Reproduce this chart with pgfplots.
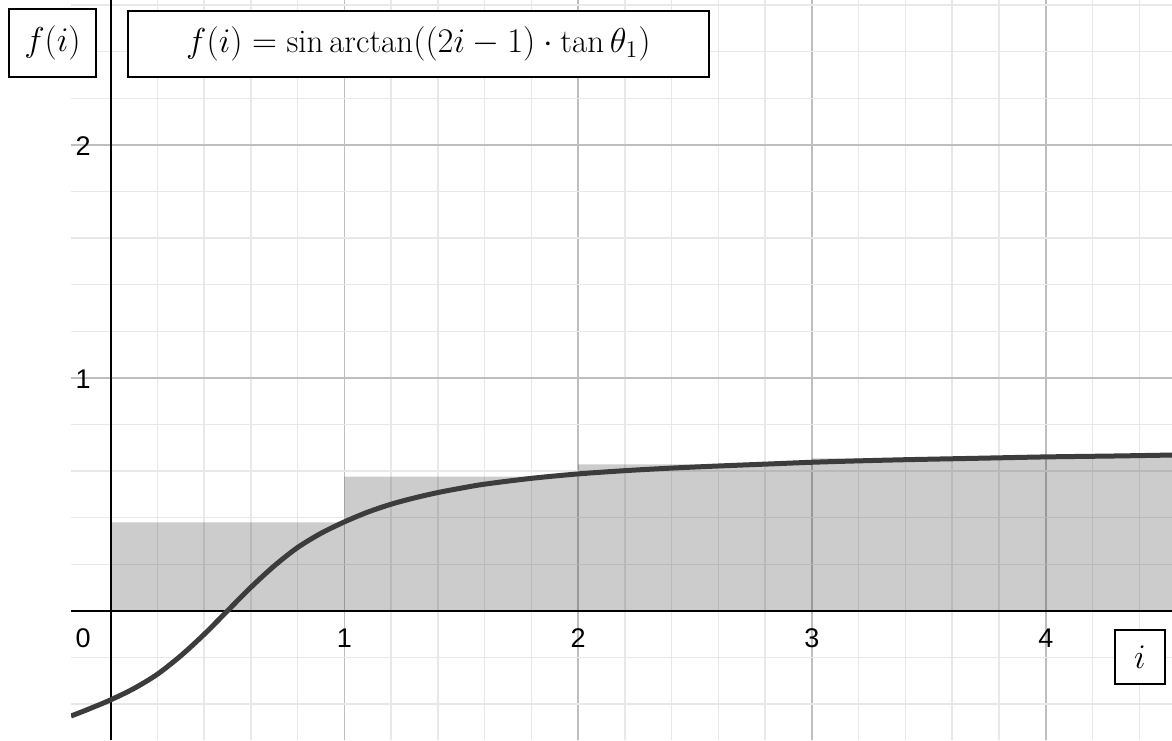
\documentclass[border=0pt]{standalone}
\usepackage{fontspec}
\newfontfamily\tickfont[Scale=1.35]{Liberation Sans}
\usepackage{pgfplots}
\pgfplotsset{compat=1.18}
\definecolor{curvegray}{RGB}{60,60,60}
\definecolor{majorgrid}{RGB}{190,190,190}
\definecolor{minorgrid}{RGB}{232,232,232}

\begin{document}
\begin{tikzpicture}
\useasboundingbox (-35.5pt,0pt) rectangle (550.5pt,370pt);
\begin{axis}[
  at={(0pt,0pt)}, anchor=south west,
  scale only axis, width=550.5pt, height=370pt,
  xmin=-0.169, xmax=4.54, ymin=-0.554, ymax=2.622,
  axis lines=middle,
  axis line style={-, black, line width=1pt},
  every inner x axis line/.append style={-},
  every inner y axis line/.append style={-},
  xtick={1,2,3,4}, ytick={1,2},
  minor xtick={-0.2,0,...,4.6},
  minor ytick={-0.4,-0.2,...,2.6},
  major tick length=0pt, minor tick length=0pt,
  grid=both,
  major grid style={draw=majorgrid, line width=0.75pt},
  minor grid style={draw=minorgrid, line width=0.75pt},
  /pgf/number format/assume math mode=true,
  ticklabel style={font=\tickfont},
  xticklabel style={anchor=center, yshift=-13.8pt},
  yticklabel style={anchor=center, xshift=-13.7pt, yshift=-0.4pt},
]
% step bars under the curve
\addplot[draw=none, fill=black, fill opacity=0.2] coordinates {
  (0,0) (0,0.380) (1,0.380) (1,0.576) (2,0.576) (2,0.629) (3,0.629)
  (3,0.655) (4,0.655) (4,0.667) (4.6,0.667) (4.6,0)
};
% f(i)
\addplot[curvegray, line width=2.5pt, smooth] coordinates {
  (-0.169,-0.451) (-0.1,-0.424) (0,-0.382) (0.1,-0.333) (0.2,-0.272)
  (0.3,-0.193) (0.4,-0.101) (0.5,0) (0.6,0.101) (0.7,0.193)
  (0.8,0.272) (0.9,0.333) (1.0,0.382) (1.1,0.424) (1.2,0.458)
  (1.3,0.485) (1.4,0.508) (1.5,0.527) (1.6,0.544) (1.8,0.569)
  (2.0,0.588) (2.2,0.602) (2.4,0.613) (2.6,0.622) (2.8,0.630)
  (3.0,0.638) (3.2,0.644) (3.4,0.649) (3.7,0.655) (4.0,0.661)
  (4.3,0.665) (4.54,0.669)
};
\node[font=\tickfont, xshift=-13.7pt, yshift=-13.8pt] at (axis cs:0,0) {0};
\end{axis}
\tikzset{lbl/.style={draw=black, line width=1pt, fill=white, inner sep=0pt,
  font=\fontsize{16.5}{20}\selectfont}}
\node[lbl, minimum width=43.2pt, minimum height=33.7pt] at (-9.25pt,348.5pt) {$f(i)$};
\node[lbl, minimum width=290.6pt, minimum height=32.6pt] at (173.7pt,347.95pt)
  {$f(i) = \sin\arctan((2i-1)\cdot\tan\theta_1)$};
\node[lbl, minimum width=24.7pt, minimum height=27pt] at (534.5pt,41.35pt) {$i$};
\end{tikzpicture}
\end{document}
